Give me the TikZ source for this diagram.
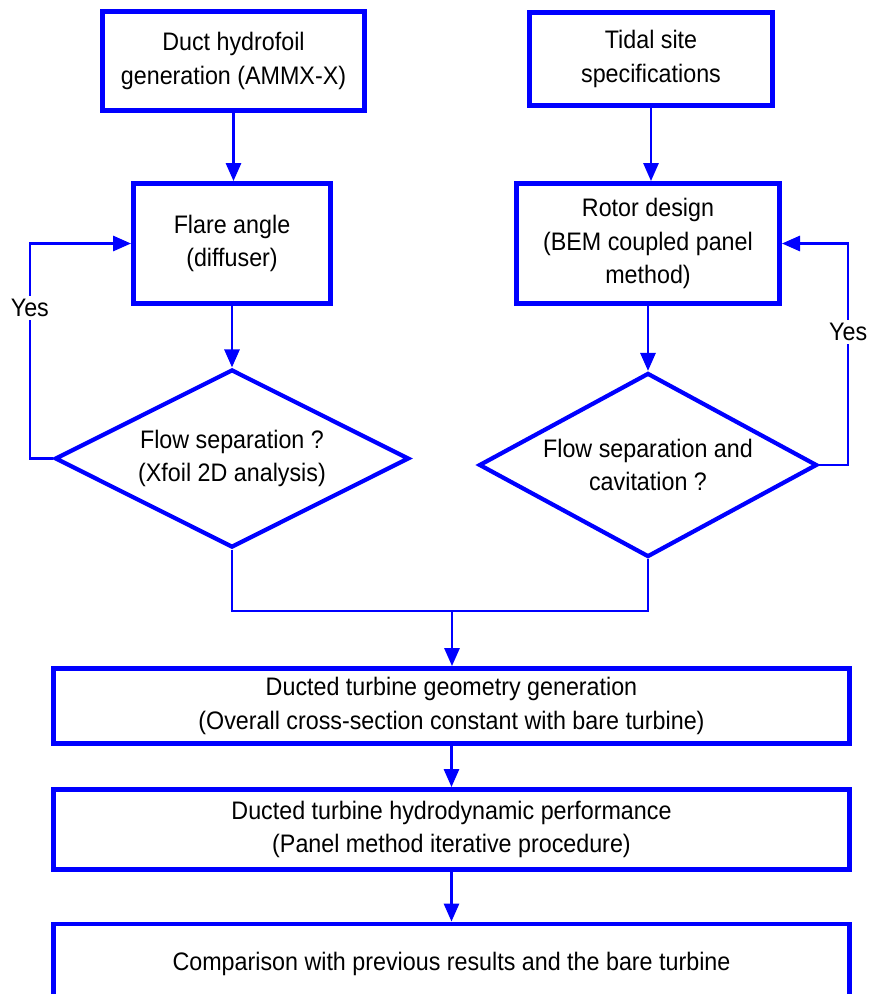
\documentclass[tikz,border=0pt]{standalone}
\usepackage{fontspec}
\setmainfont[FakeStretch=0.92]{Liberation Sans}
\usetikzlibrary{
  positioning,
  shapes.geometric,
  arrows.meta
}
\definecolor{flowblue}{RGB}{0,0,255}
\tikzset{
  txt/.style={font=\fontsize{18}{24}\selectfont, align=center},
  procbox/.style={txt, draw=flowblue, line width=3.5pt, inner sep=0pt},
  decision/.style={txt, diamond, aspect=2, draw=flowblue, line width=3pt, inner sep=0pt},
  link/.style={draw=flowblue, line width=1.7pt},
  arrow/.style={link, -{Triangle[width=0.38cm,length=0.45cm]}},
  yeslabel/.style={txt, fill=white, inner sep=2pt}
}

\begin{document}
\begin{tikzpicture}[x=0.025cm,y=-0.025cm]
    \useasboundingbox (0,0) rectangle (869,994);
    % upper row
    \node (duct) [procbox,minimum width=6.55cm,minimum height=2.475cm] at (233.5,61) {Duct hydrofoil\\generation (AMMX-X)};
    \node (tidal) [procbox,minimum width=6.075cm,minimum height=2.325cm] at (651,59) {Tidal site\\specifications};
    \node (flare) [procbox,minimum width=4.925cm,minimum height=3cm] at (232,243.5) {Flare angle\\(diffuser)};
    \node (rotor) [procbox,minimum width=6.575cm,minimum height=3cm] at (648,243.5) {Rotor design\\(BEM coupled panel\\method)};
    \node (sep1) [decision,minimum width=8.85cm,minimum height=4.45cm] at (232,458.5) {Flow separation ?\\(Xfoil 2D analysis)};
    \node (sep2) [decision,minimum width=8.45cm,minimum height=4.6cm] at (648,465) {Flow separation and\\cavitation ?};
    % lower row
    \node (geom) [procbox,minimum width=19.9cm,minimum height=1.875cm] at (451.5,706) {Ducted turbine geometry generation\\(Overall cross-section constant with bare turbine)};
    \node (perf) [procbox,minimum width=19.9cm,minimum height=2cm] at (451.5,829.5) {Ducted turbine hydrodynamic performance\\(Panel method iterative procedure)};
    \node (comp) [procbox,minimum width=19.9cm,minimum height=2cm] at (451.5,964) {Comparison with previous results and the bare turbine};
    \coordinate (join) at (452,611);

    \draw [arrow] (duct.south) -- (duct.south |- flare.north);
    \draw [arrow] (tidal.south) -- (tidal.south |- rotor.north);
    \draw [arrow] (flare.south) -- (sep1.north);
    \draw [arrow] (rotor.south) -- (sep2.north);
    \draw [arrow] (sep1.west) -- ++(-0.575cm,0) |- node[yeslabel,pos=0.35] {Yes} (flare.west);
    \draw [arrow] (sep2.east) -- ++(0.725cm,0) |- node[yeslabel,pos=0.30] {Yes} (rotor.east);
    \draw [link] (sep1.south) |- (join);
    \draw [link] (sep2.south) |- (join);
    \draw [arrow] (join) -- (join |- geom.north);
    \draw [arrow] (geom.south) -- (perf.north);
    \draw [arrow] (perf.south) -- (comp.north);
  \end{tikzpicture}
\end{document}
